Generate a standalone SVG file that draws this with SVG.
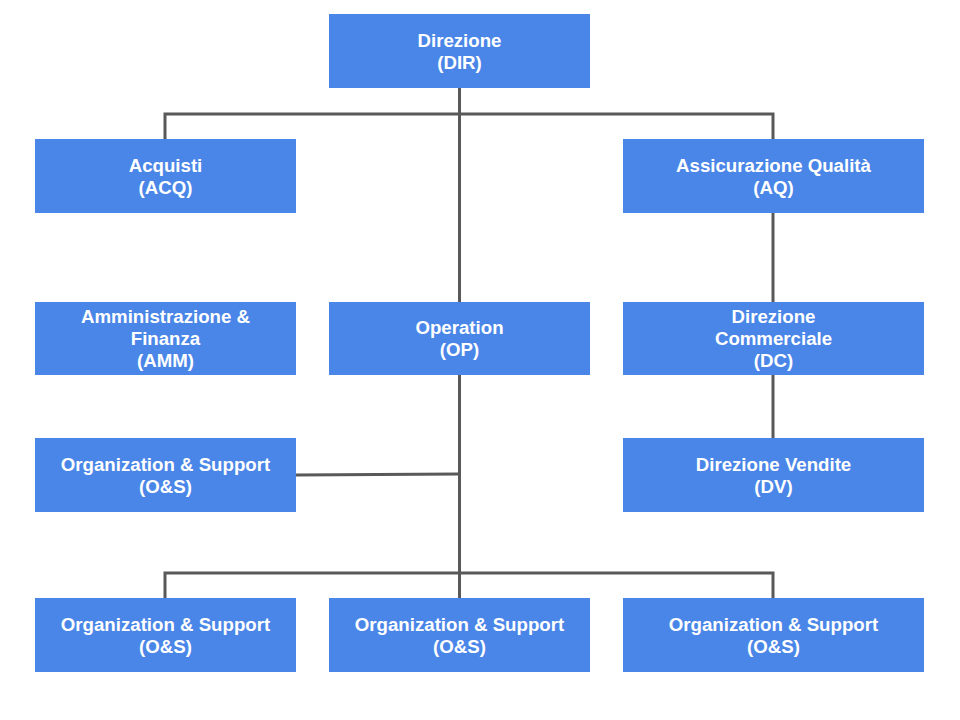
<svg xmlns="http://www.w3.org/2000/svg" width="960" height="720" viewBox="0 0 960 720">
<style>
.box{fill:#4a86e8}
.t{fill:#fff;font-family:"Liberation Sans",Arial,sans-serif;font-weight:bold;font-size:18.67px;text-anchor:middle}
.c{stroke:#595959;stroke-width:3;fill:none}
</style>
<rect width="960" height="720" fill="#fff"/>
<g id="connectors">
<polyline class="c" points="165,139 165,114 773,114 773,139"/>
<line class="c" x1="459.5" y1="87" x2="459.5" y2="302"/>
<line class="c" x1="773" y1="212" x2="773" y2="302"/>
<line class="c" x1="773" y1="375" x2="773" y2="438"/>
<line class="c" x1="459.5" y1="375" x2="459.5" y2="598"/>
<line class="c" x1="296" y1="475" x2="459.5" y2="474"/>
<polyline class="c" points="165,598 165,573 773,573 773,598"/>
</g>
<g id="dir"><rect class="box" x="329" y="14" width="261" height="74"/><text class="t" x="459.5" y="46.5">Direzione</text><text class="t" x="459.5" y="68.5">(DIR)</text></g>
<g id="acq"><rect class="box" x="35" y="139" width="261" height="74"/><text class="t" x="165.5" y="171.5">Acquisti</text><text class="t" x="165.5" y="193.5">(ACQ)</text></g>
<g id="aq"><rect class="box" x="623" y="139" width="301" height="74"/><text class="t" x="773.5" y="171.5">Assicurazione Qualità</text><text class="t" x="773.5" y="193.5">(AQ)</text></g>
<g id="amm"><rect class="box" x="35" y="302" width="261" height="73"/><text class="t" x="165.5" y="323">Amministrazione &amp;</text><text class="t" x="165.5" y="345">Finanza</text><text class="t" x="165.5" y="367">(AMM)</text></g>
<g id="op"><rect class="box" x="329" y="302" width="261" height="73"/><text class="t" x="459.5" y="334">Operation</text><text class="t" x="459.5" y="356">(OP)</text></g>
<g id="dc"><rect class="box" x="623" y="302" width="301" height="73"/><text class="t" x="773.5" y="323">Direzione</text><text class="t" x="773.5" y="345">Commerciale</text><text class="t" x="773.5" y="367">(DC)</text></g>
<g id="os1"><rect class="box" x="35" y="438" width="261" height="74"/><text class="t" x="165.5" y="470.5">Organization &amp; Support</text><text class="t" x="165.5" y="492.5">(O&amp;S)</text></g>
<g id="dv"><rect class="box" x="623" y="438" width="301" height="74"/><text class="t" x="773.5" y="470.5">Direzione Vendite</text><text class="t" x="773.5" y="492.5">(DV)</text></g>
<g id="os2"><rect class="box" x="35" y="598" width="261" height="74"/><text class="t" x="165.5" y="630.5">Organization &amp; Support</text><text class="t" x="165.5" y="652.5">(O&amp;S)</text></g>
<g id="os3"><rect class="box" x="329" y="598" width="261" height="74"/><text class="t" x="459.5" y="630.5">Organization &amp; Support</text><text class="t" x="459.5" y="652.5">(O&amp;S)</text></g>
<g id="os4"><rect class="box" x="623" y="598" width="301" height="74"/><text class="t" x="773.5" y="630.5">Organization &amp; Support</text><text class="t" x="773.5" y="652.5">(O&amp;S)</text></g>
</svg>
